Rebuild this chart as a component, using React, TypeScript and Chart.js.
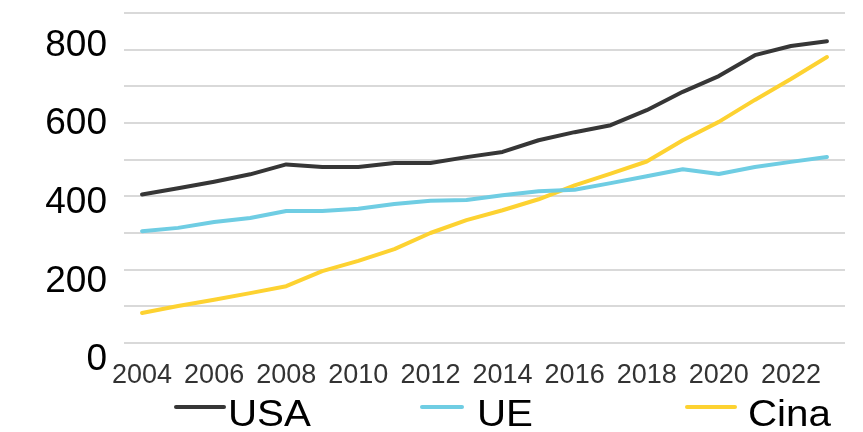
import React, { useEffect, useRef } from 'react';
import { Chart, registerables } from 'chart.js';

Chart.register(...registerables);

const years = ['2004', '2005', '2006', '2007', '2008', '2009', '2010', '2011', '2012', '2013', '2014', '2015', '2016', '2017', '2018', '2019', '2020', '2021', '2022', '2023'];
const usa = [405, 422, 440, 460, 487, 480, 480, 491, 491, 507, 521, 553, 575, 594, 635, 685, 728, 785, 810, 823];
const ue = [305, 314, 330, 341, 360, 360, 366, 379, 388, 390, 403, 414, 418, 436, 455, 474, 461, 480, 494, 507];
const cina = [82, 101, 118, 136, 155, 196, 224, 256, 300, 335, 362, 392, 430, 462, 495, 553, 603, 663, 720, 780];
const seriesNames = ['USA', 'UE', 'Cina'];
const seriesColors = ['#363636', '#6fcde3', '#fdd231'];
const yTickLabels = [0, 200, 400, 600, 800];

const FONT = '"Liberation Sans", Arial, sans-serif';

const legendPlugin = {
  id: 'manualLegend',
  afterDraw(chart: any, _args: any, opts: any) {
    const ctx = chart.ctx;
    chart.data.datasets.forEach((ds: any, i: number) => {
      const it = opts.items[i];
      ctx.save();
      ctx.strokeStyle = ds.borderColor;
      ctx.lineWidth = 4;
      ctx.lineCap = 'round';
      ctx.beginPath();
      ctx.moveTo(it.x, opts.lineY);
      ctx.lineTo(it.x + it.w, opts.lineY);
      ctx.stroke();
      ctx.translate(it.tx, opts.textY);
      ctx.scale(opts.stretch, 1);
      ctx.font = `${opts.fontSize}px ${FONT}`;
      ctx.textBaseline = 'alphabetic';
      ctx.textAlign = 'left';
      ctx.fillStyle = '#000';
      ctx.fillText(ds.label, 0, 0);
      ctx.restore();
    });
  },
};

export default function App() {
  const ref = useRef<HTMLCanvasElement | null>(null);

  useEffect(() => {
    document.body.style.margin = '0';
    const canvas = ref.current!;
    const chart = new Chart(canvas, {
      type: 'line',
      data: {
        labels: years,
        datasets: [usa, ue, cina].map((d, i) => ({
          label: seriesNames[i],
          data: d,
          yAxisID: 'y',
          borderColor: seriesColors[i],
          backgroundColor: seriesColors[i],
          borderWidth: 4,
          pointRadius: 0,
          tension: 0,
          borderJoinStyle: 'round' as const,
          borderCapStyle: 'round' as const,
        })),
      },
      options: {
        responsive: false,
        animation: false,
        layout: { padding: { top: 13, right: 18, left: 0, bottom: 44 } },
        plugins: {
          legend: { display: false },
          tooltip: { enabled: false },
          title: { display: false },
          manualLegend: {
            fontSize: 36,
            stretch: 1.12,
            lineY: 407,
            textY: 426,
            items: [
              { x: 176, w: 48, tx: 228 },
              { x: 422, w: 40, tx: 477 },
              { x: 687, w: 48, tx: 748 },
            ],
          },
        } as any,
        scales: {
          x: {
            offset: true,
            grid: { display: false, drawTicks: false },
            border: { display: false },
            afterFit: (s: any) => { s.height = 45; s.paddingLeft = 0; s.paddingRight = 0; },
            ticks: {
              autoSkip: false,
              maxRotation: 0,
              minRotation: 0,
              padding: 16,
              color: '#333333',
              font: { family: FONT, size: 27 },
              callback: (_v: any, i: number) => (i % 2 === 0 ? years[i] : ''),
            },
          },
          yLabels: {
            position: 'left',
            min: 43,
            max: 883,
            grid: { display: false, drawTicks: false },
            border: { display: false },
            afterBuildTicks: (s: any) => { s.ticks = yTickLabels.map((v) => ({ value: v })); },
            afterFit: (s: any) => { s.width = 124; s.paddingTop = 0; s.paddingBottom = 0; },
            ticks: {
              autoSkip: false,
              padding: 17,
              color: '#000000',
              font: { family: FONT, size: 37 },
              callback: (v: any) => String(v),
            },
          },
          y: {
            position: 'left',
            min: 0,
            max: 900,
            afterFit: (s: any) => { s.width = 0; s.paddingTop = 0; s.paddingBottom = 0; },
            grid: { color: '#d9d9d9', lineWidth: 2, drawTicks: false },
            border: { display: false },
            ticks: { stepSize: 100, autoSkip: false, display: false },
          },
        } as any,
      },
      plugins: [legendPlugin],
    });
    return () => chart.destroy();
  }, []);

  return (
    <div style={{ position: 'absolute', left: 0, top: 0, width: 863, height: 432, background: '#fff' }}>
      <canvas ref={ref} width={863} height={432} style={{ display: 'block', width: 863, height: 432 }} />
    </div>
  );
}
